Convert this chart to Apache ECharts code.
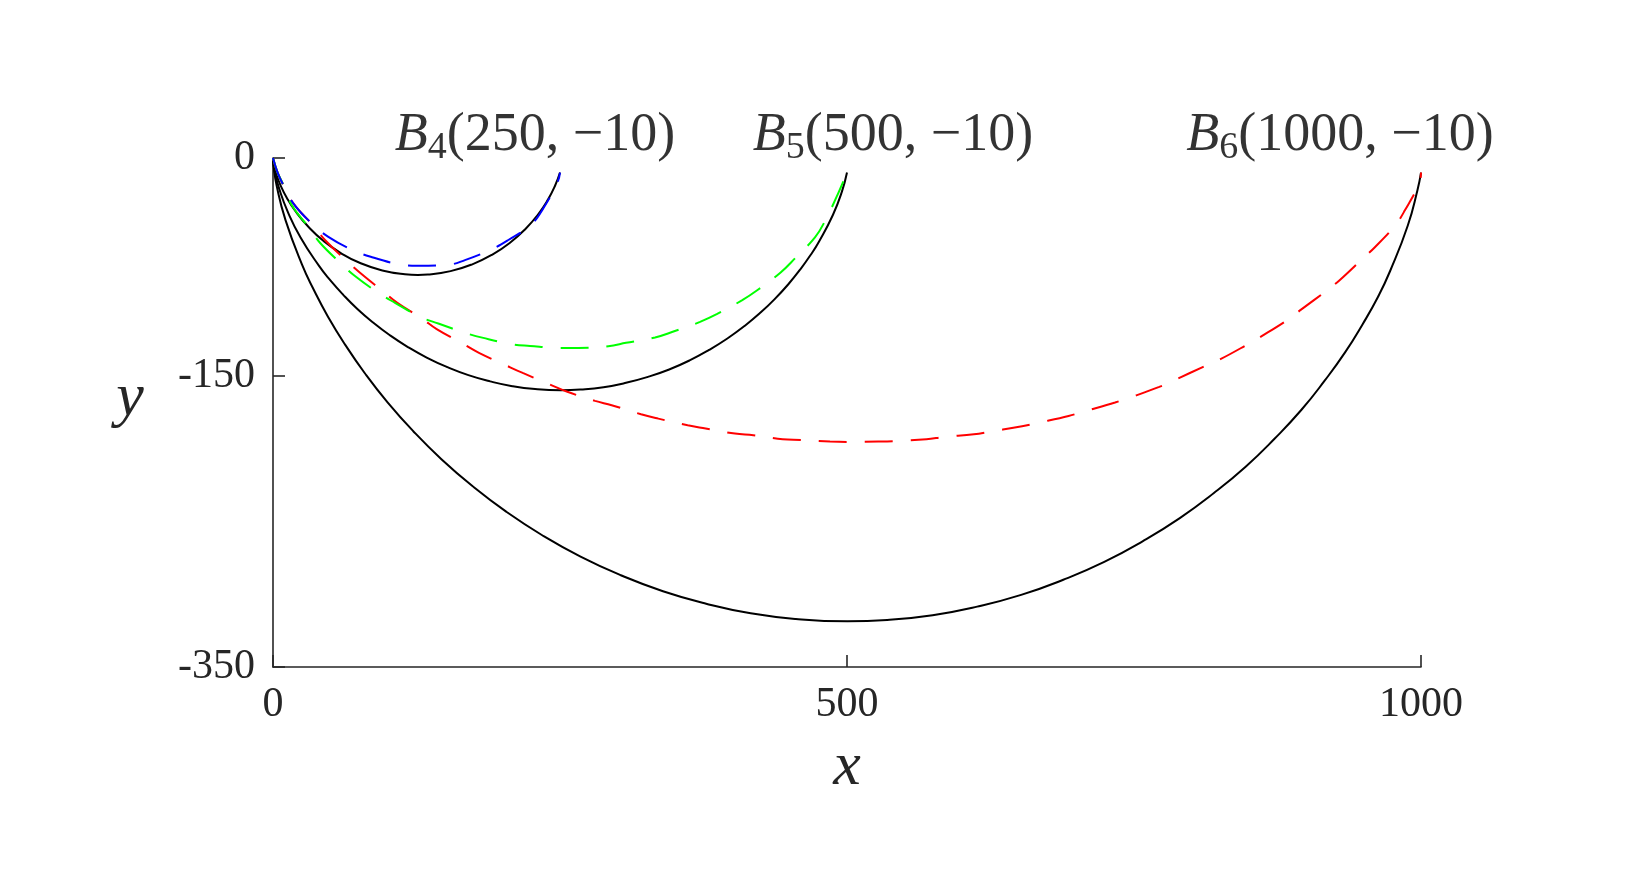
<!DOCTYPE html>
<html>
<head>
<meta charset="utf-8">
<script src="https://cdn.jsdelivr.net/npm/echarts@6/dist/echarts.min.js"></script>
<style>
  html, body { margin: 0; padding: 0; background: #fff; }
  #chart { width: 1633px; height: 892px; }
</style>
</head>
<body>
<div id="chart"></div>
<script>
// ---- data ----
const xTicks = [0, 500, 1000];
const yTicks = [0, -150, -350];

// black solid curves (brachistochrones)
const b4X = [0, 0.1, 0.8, 2.7, 6.4, 12.1, 20.2, 30.8, 43.8, 59.1, 76.4, 95.2, 114.9, 126.2, 134.9, 154.7, 173.6, 191.1, 206.7, 220.1, 231.0, 239.4, 245.4, 250];
const b4Y = [0, -1.2, -4.9, -10.8, -18.5, -27.5, -37.3, -47.3, -56.9, -65.4, -72.4, -77.3, -79.9, -80.4, -80.1, -77.8, -73.1, -66.4, -58.1, -48.6, -38.7, -28.8, -19.6, -10];

const b5X = [0, 0.2, 1.6, 5.5, 12.7, 24.0, 40.1, 50.0, 61.2, 73.5, 87.1, 101.8, 117.5, 134.3, 151.8, 170.2, 189.1, 208.5, 228.3, 250.9, 268.2, 287.9, 307.5, 326.6, 345.1, 362.9, 379.8, 395.8, 410.8, 424.7, 437.4, 448.9, 459.1, 468.1, 475.8, 487.8, 495.5, 500];
const b5Y = [0, -2.5, -9.8, -21.4, -36.7, -54.7, -74.2, -84.2, -94.1, -103.8, -113.1, -121.9, -130.0, -137.4, -143.8, -149.3, -153.6, -156.9, -158.9, -159.7, -159.2, -157.6, -154.6, -150.5, -145.4, -139.2, -132.0, -124.1, -115.5, -106.3, -96.7, -86.8, -76.8, -66.9, -57.2, -39.0, -23.3, -10];

const b6X = [0, 0.4, 3.3, 10.9, 25.2, 35.5, 47.9, 62.8, 80.0, 99.8, 122.0, 146.7, 173.7, 203.1, 234.5, 267.9, 302.9, 339.7, 377.3, 416.1, 455.4, 500.4, 535.0, 574.6, 613.4, 651.7, 688.4, 724.1, 757.8, 789.9, 819.6, 847.5, 872.6, 895.7, 915.9, 934.0, 949.3, 962.6, 973.1, 988.5, 996.9, 1000];
const b6Y = [0, -5.0, -19.5, -42.7, -73.2, -90.6, -109.1, -128.3, -148.0, -168.0, -187.7, -207.1, -225.6, -243.2, -259.4, -274.1, -286.9, -297.9, -306.5, -313.1, -317.0, -318.6, -317.7, -314.4, -308.5, -300.4, -290.0, -277.7, -263.4, -247.6, -230.4, -212.1, -192.9, -173.3, -153.3, -133.5, -114.1, -95.4, -77.7, -46.4, -22.1, -10];

// dashed approximations
const blueX = [0, 4, 9, 17.7, 33.7, 48.2, 69.4, 85.1, 109.2, 125.7, 151.3, 167.2, 191, 205, 224.5, 235.5, 248, 250];
const blueY = [0, -10, -18.6, -31.2, -45, -54.2, -63.3, -67.9, -73, -74.1, -73.6, -70.2, -62.6, -56.4, -46.1, -34.6, -16.3, -10];

const greenX = [0, 4, 9, 16.3, 30.7, 40.9, 58.4, 71.4, 91.7, 106.3, 128, 144, 167.2, 183.2, 207.9, 223.9, 248.5, 266, 292.1, 307.5, 332.8, 348.2, 372, 386.5, 408.8, 422.7, 442.2, 454.7, 472.1, 480.8, 491, 500];
const greenY = [0, -10, -18.5, -32.3, -47.3, -58.3, -72, -81.2, -92.7, -99.6, -109.2, -113.8, -120.2, -123.7, -128, -129.2, -130.6, -130.6, -129.4, -127.1, -123.4, -119.5, -112.7, -107.4, -97.7, -90.4, -78.7, -69, -54.6, -43.4, -26.6, -10];

const redX = [0, 3, 8, 17.7, 34.6, 45.3, 63.3, 75.8, 95.2, 108.3, 129.5, 142.6, 164.9, 179.4, 202.7, 217.5, 240.7, 255.8, 280.5, 295, 320.6, 335.6, 361.2, 376.9, 402.4, 418.4, 444, 459.6, 485.2, 501.1, 527.3, 543.5, 569.2, 584.8, 610.5, 626.7, 652.5, 667.8, 693, 708.3, 733.5, 748.1, 772, 787, 810.3, 825.3, 847.7, 861.6, 883.4, 895.8, 917.6, 929.1, 948.7, 959.6, 977.7, 986.1, 998.5, 1000];
const redY = [0, -8, -17, -31.2, -46.1, -56.4, -70.2, -78.9, -91.3, -99.6, -110.3, -117.7, -127.5, -134, -142.5, -147.8, -155.6, -160.6, -167, -170, -176.2, -179.2, -183.8, -186, -189.5, -190.7, -193.4, -193.9, -195, -195.3, -195, -194.6, -193.4, -191.8, -190, -187.9, -184.5, -181.9, -177.4, -173.9, -168.1, -164.3, -157.4, -152.1, -143.6, -138.3, -128.7, -122.3, -111.5, -104.1, -91.3, -84, -69.5, -61.5, -46.1, -35.8, -17.4, -10];

// end points B4, B5, B6
const endX = [250, 500, 1000];
const endY = [-10, -10, -10];
const endSub = ['4', '5', '6'];

// ---- styling / layout ----
const labelOffsets = [[-25, -33], [46, -33], [-81, -33]];
const SERIF = '"Liberation Serif", "Times New Roman", serif';
const AXIS_COLOR = '#262626';

function zip(xs, ys) { return xs.map((x, i) => [x, ys[i]]); }

function solid(name, xs, ys) {
  return {
    name, type: 'line', data: zip(xs, ys), smooth: 0.5, showSymbol: false, symbol: 'none',
    lineStyle: { color: '#000000', width: 2 }, z: 2, silent: true
  };
}
function dashed(name, xs, ys, color, z) {
  return {
    name, type: 'line', data: zip(xs, ys), smooth: 0.4, showSymbol: false, symbol: 'none',
    lineStyle: { color, width: 2, type: [28, 18] }, z, silent: true
  };
}

const labelData = endX.map((x, i) => ({
  value: [x, endY[i]],
  label: {
    offset: labelOffsets[i],
    formatter: '{b|B}{s|' + endSub[i] + '}{n|(' + x + ', \u2212' + Math.abs(endY[i]) + ')}'
  }
}));

const chart = echarts.init(document.getElementById('chart'), null, { renderer: 'canvas' });
chart.setOption({
  animation: false,
  backgroundColor: '#ffffff',
  grid: { left: 273, right: 212, top: 158, bottom: 225, containLabel: false, outerBoundsMode: 'none' },
  xAxis: {
    type: 'value', min: 0, max: 1000, interval: 500,
    name: 'x', nameLocation: 'middle', nameGap: 101,
    nameTextStyle: { fontFamily: SERIF, fontStyle: 'italic', fontSize: 62, color: AXIS_COLOR, align: 'center', verticalAlign: 'middle' },
    axisLine: { show: true, onZero: false, lineStyle: { color: AXIS_COLOR, width: 1.6 } },
    axisTick: { show: true, inside: true, length: 12, lineStyle: { color: AXIS_COLOR, width: 1.6 }, customValues: xTicks },
    axisLabel: { show: true, margin: 17, fontFamily: SERIF, fontSize: 42, color: AXIS_COLOR, customValues: xTicks, formatter: v => String(v) },
    splitLine: { show: false }
  },
  yAxis: {
    type: 'value', min: -350, max: 0,
    name: 'y', nameLocation: 'middle', nameRotate: 0, nameGap: 143,
    nameTextStyle: { fontFamily: SERIF, fontStyle: 'italic', fontSize: 62, lineHeight: 27, color: AXIS_COLOR, align: 'center', verticalAlign: 'bottom' },
    axisLine: { show: true, onZero: false, lineStyle: { color: AXIS_COLOR, width: 1.6 } },
    axisTick: { show: true, inside: true, length: 12, lineStyle: { color: AXIS_COLOR, width: 1.6 }, customValues: yTicks },
    axisLabel: { show: true, margin: 18, fontFamily: SERIF, fontSize: 42, color: AXIS_COLOR, customValues: yTicks, formatter: v => String(v) },
    splitLine: { show: false }
  },
  series: [
    solid('B4', b4X, b4Y),
    solid('B5', b5X, b5Y),
    solid('B6', b6X, b6Y),
    dashed('approx B6', redX, redY, '#ff0000', 3),
    dashed('approx B5', greenX, greenY, '#00ff00', 4),
    dashed('approx B4', blueX, blueY, '#0000ff', 5),
    {
      name: 'labels', type: 'scatter', data: labelData, symbolSize: 0, silent: true, z: 10,
      label: {
        show: true, position: 'inside', align: 'center', verticalAlign: 'middle',
        rich: {
          b: { fontFamily: SERIF, fontStyle: 'italic', fontSize: 54, lineHeight: 54, color: '#000', verticalAlign: 'bottom', padding: [0, 0, 4, 0] },
          s: { fontFamily: SERIF, fontSize: 38, lineHeight: 38, color: '#000', verticalAlign: 'bottom' },
          n: { fontFamily: SERIF, fontSize: 54, lineHeight: 54, color: '#000', verticalAlign: 'bottom', padding: [0, 0, 4, 0] }
        }
      }
    }
  ]
});
</script>
</body>
</html>
